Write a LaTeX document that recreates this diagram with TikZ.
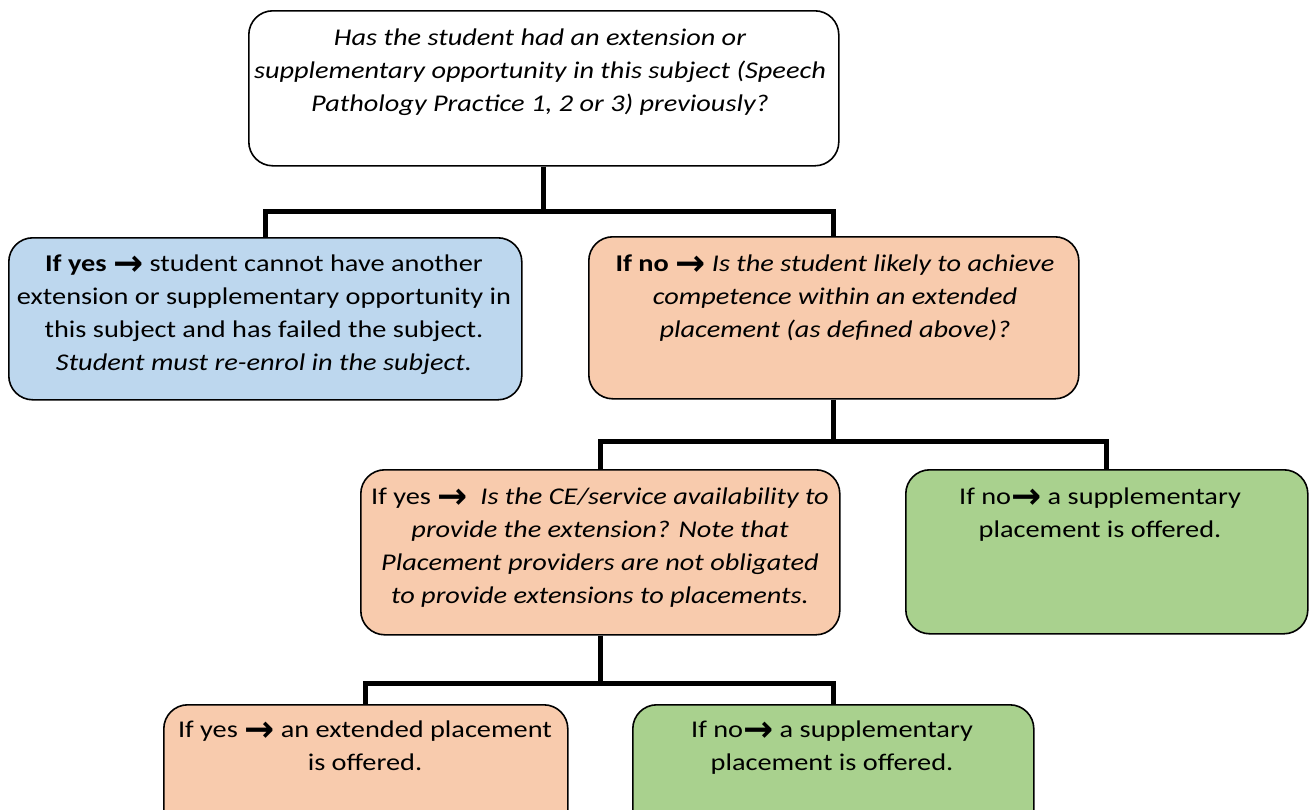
\documentclass[tikz,border=0pt]{standalone}
\usepackage{fontspec}
\usepackage{graphicx}
\setmainfont{Carlito}[FakeStretch=1.18]
\newfontfamily\arrfont{DejaVu Sans}
\newcommand{\ar}{\raisebox{-0.17em}{\scalebox{1.5}[1.5]{\arrfont\bfseries →}}}
\definecolor{cblue}{RGB}{189,215,238}
\definecolor{corange}{RGB}{248,203,173}
\definecolor{cgreen}{RGB}{169,209,142}
\tikzset{
  box/.style={draw=black, line width=1.6pt, rounded corners=24pt, inner sep=0pt, anchor=north west},
  txt/.style={inner sep=0pt, anchor=base, font=\fontsize{24}{33}\selectfont},
  conn/.style={line width=5pt, line join=miter},
}
\newcommand{\tb}[1]{\parbox[t]{700pt}{\centering #1}}
\begin{document}
\begin{tikzpicture}[x=1pt,y=-1pt]
\useasboundingbox (0,0) rectangle (1309,809);
\clip (0,0) rectangle (1309,809);
% boxes
\node[box, fill=white,   minimum width=590pt, minimum height=155pt] (q1)   at (248,10) {};
\node[box, fill=cblue,   minimum width=513pt, minimum height=162pt] (yes1) at (8,237) {};
\node[box, fill=corange, minimum width=490pt, minimum height=162pt] (no1)  at (588,236) {};
\node[box, fill=corange, minimum width=479pt, minimum height=165pt] (q3)   at (360,469) {};
\node[box, fill=cgreen,  minimum width=402pt, minimum height=164pt] (sup1) at (905,469) {};
\node[box, fill=corange, minimum width=404pt, minimum height=140pt] (ext)  at (163,704) {};
\node[box, fill=cgreen,  minimum width=401pt, minimum height=140pt] (sup2) at (632,704) {};
% texts
\node[txt] (t1) at (540,45) {\tb{\itshape Has the student had an extension or\\ supplementary opportunity in this subject (Speech\\ Pathology Practice 1, 2 or 3) previously?}};
\node[txt] (t2) at (264,271) {\tb{\textbf{If yes} \ar{} student cannot have another\\ extension or supplementary opportunity in\\ this subject and has failed the subject.\\ \textit{Student must re-enrol in the subject.}}};
\node[txt] (t3) at (835,271) {\tb{\textbf{If no} \ar{} \textit{Is the student likely to achieve\\ competence within an extended\\ placement (as defined above)?}}};
\node[txt] (t4) at (600,504) {\tb{If yes \ar{}\ \ \textit{Is the CE/service availability to\\ provide the extension? Note that\\ Placement providers are not obligated\\ to provide extensions to placements.}}};
\node[txt] (t5) at (1100,504) {\tb{If no\ar{} a supplementary\\ placement is offered.}};
\node[txt] (t6) at (365,737) {\tb{If yes \ar{} an extended placement\\ is offered.}};
\node[txt] (t7) at (832,737) {\tb{If no\ar{} a supplementary\\ placement is offered.}};
% connectors
\coordinate (j1) at (0,211);
\coordinate (j2) at (0,441);
\coordinate (j3) at (0,683);
\draw[conn] (q1.south) -- (q1.south |- j1);
\draw[conn] (yes1.north) |- (j1 -| no1.north) -- (no1.north);
\draw[conn] (no1.south) -- (no1.south |- j2);
\draw[conn] (q3.north) |- (j2 -| sup1.north) -- (sup1.north);
\draw[conn] (q3.south) -- (q3.south |- j3);
\draw[conn] (ext.north) |- (j3 -| sup2.north) -- (sup2.north);
\end{tikzpicture}
\end{document}
